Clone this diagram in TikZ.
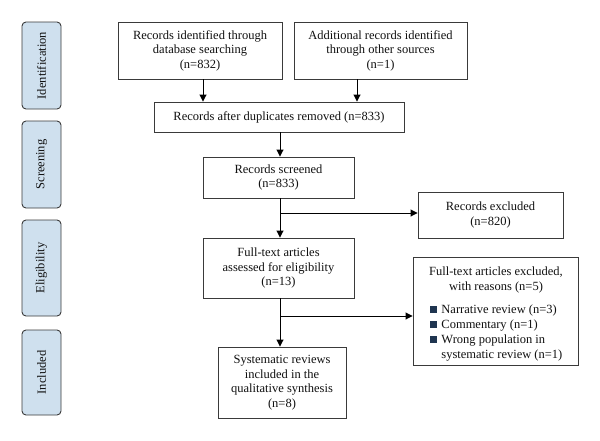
\documentclass[tikz,border=0pt]{standalone}
\usepackage{fontspec}
\setmainfont{Liberation Serif}
\usetikzlibrary{arrows.meta}
\definecolor{sidefill}{HTML}{CFE0EE}
\definecolor{bordc}{HTML}{3A3A3A}
\definecolor{txtc}{HTML}{111111}
\definecolor{bulc}{HTML}{1F3550}
\tikzset{
  box/.style={draw=bordc, line width=0.9pt, fill=white, align=center, inner sep=2pt, text=txtc, font=\fontsize{12.5}{14.5}\selectfont},
  side/.style={draw=bordc, line width=0.9pt, fill=sidefill, rounded corners=4pt, text=txtc, font=\fontsize{12.5}{14.5}\selectfont, minimum width=39pt},
  conn/.style={draw=black, line width=0.9pt},
  arr/.style={conn, -{Triangle[length=7pt,width=7pt]}},
}
\newcommand{\bul}{\textcolor{bulc}{\rule{7pt}{7pt}}\hspace{4pt}}
\begin{document}
\begin{tikzpicture}[x=1pt,y=-1pt]
\useasboundingbox (0,0) rectangle (600,440);
% side labels
\node[side, minimum height=87pt] (sid) at (41.5,65.5) {\rotatebox{90}{Identification}};
\node[side, minimum height=87pt] (sscr) at (41.5,164.5) {\rotatebox{90}{Screening}};
\node[side, minimum height=96pt] (selig) at (41.5,268) {\rotatebox{90}{Eligibility}};
\node[side, minimum height=85pt] (sinc) at (41.5,372.5) {\rotatebox{90}{Included}};
% boxes
\node[box, minimum width=164pt, minimum height=57pt] (db) at (200,50.5) {Records identified through\\database searching\\(n=832)};
\node[box, minimum width=173pt, minimum height=57pt] (other) at (380.5,50.5) {Additional records identified\\through other sources\\(n=1)};
\node[box, minimum width=250pt, minimum height=30pt] (dup) at (279,117) {Records after duplicates removed (n=833)};
\node[box, minimum width=151pt, minimum height=41pt] (scr) at (278.5,177.5) {Records screened\\(n=833)};
\node[box, minimum width=145pt, minimum height=46pt] (exc) at (490.5,215) {Records excluded\\(n=820)};
\node[box, minimum width=151pt, minimum height=60pt] (ft) at (278.5,268) {Full-text articles\\assessed for eligibility\\(n=13)};
\node[box, minimum width=165pt, minimum height=108pt] (ftx) at (495.5,311) {};
\node[box, draw=none, fill=none, align=center] (ftxh) at (496,280) {Full-text articles excluded,\\with reasons (n=5)};
\node[box, draw=none, fill=none, align=left, anchor=north west, font=\fontsize{12.5}{15}\selectfont] (ftxl) at (428,302) {\bul Narrative review (n=3)\\\bul Commentary (n=1)\\\bul Wrong population in\\\hspace{11pt}systematic review (n=1)};
\node[box, minimum width=128pt, minimum height=71pt] (inc) at (282,382.5) {Systematic reviews\\included in the\\qualitative synthesis\\(n=8)};
% connectors
\coordinate (b1) at (203,117);
\coordinate (b2) at (357,117);
\draw[arr] (db.south -| b1) -- (dup.north -| b1);
\draw[arr] (other.south -| b2) -- (dup.north -| b2);
\coordinate (c) at (280,0);
\draw[arr] (dup.south -| c) -- (scr.north -| c);
\draw[arr] (scr.south -| c) -- (ft.north -| c);
\coordinate (j1) at (280,213);
\draw[arr] (j1) -- (exc.west |- j1);
\draw[arr] (ft.south -| c) -- (inc.north -| c);
\coordinate (j2) at (280,316);
\draw[arr] (j2) -- (ftx.west |- j2);
\end{tikzpicture}
\end{document}
